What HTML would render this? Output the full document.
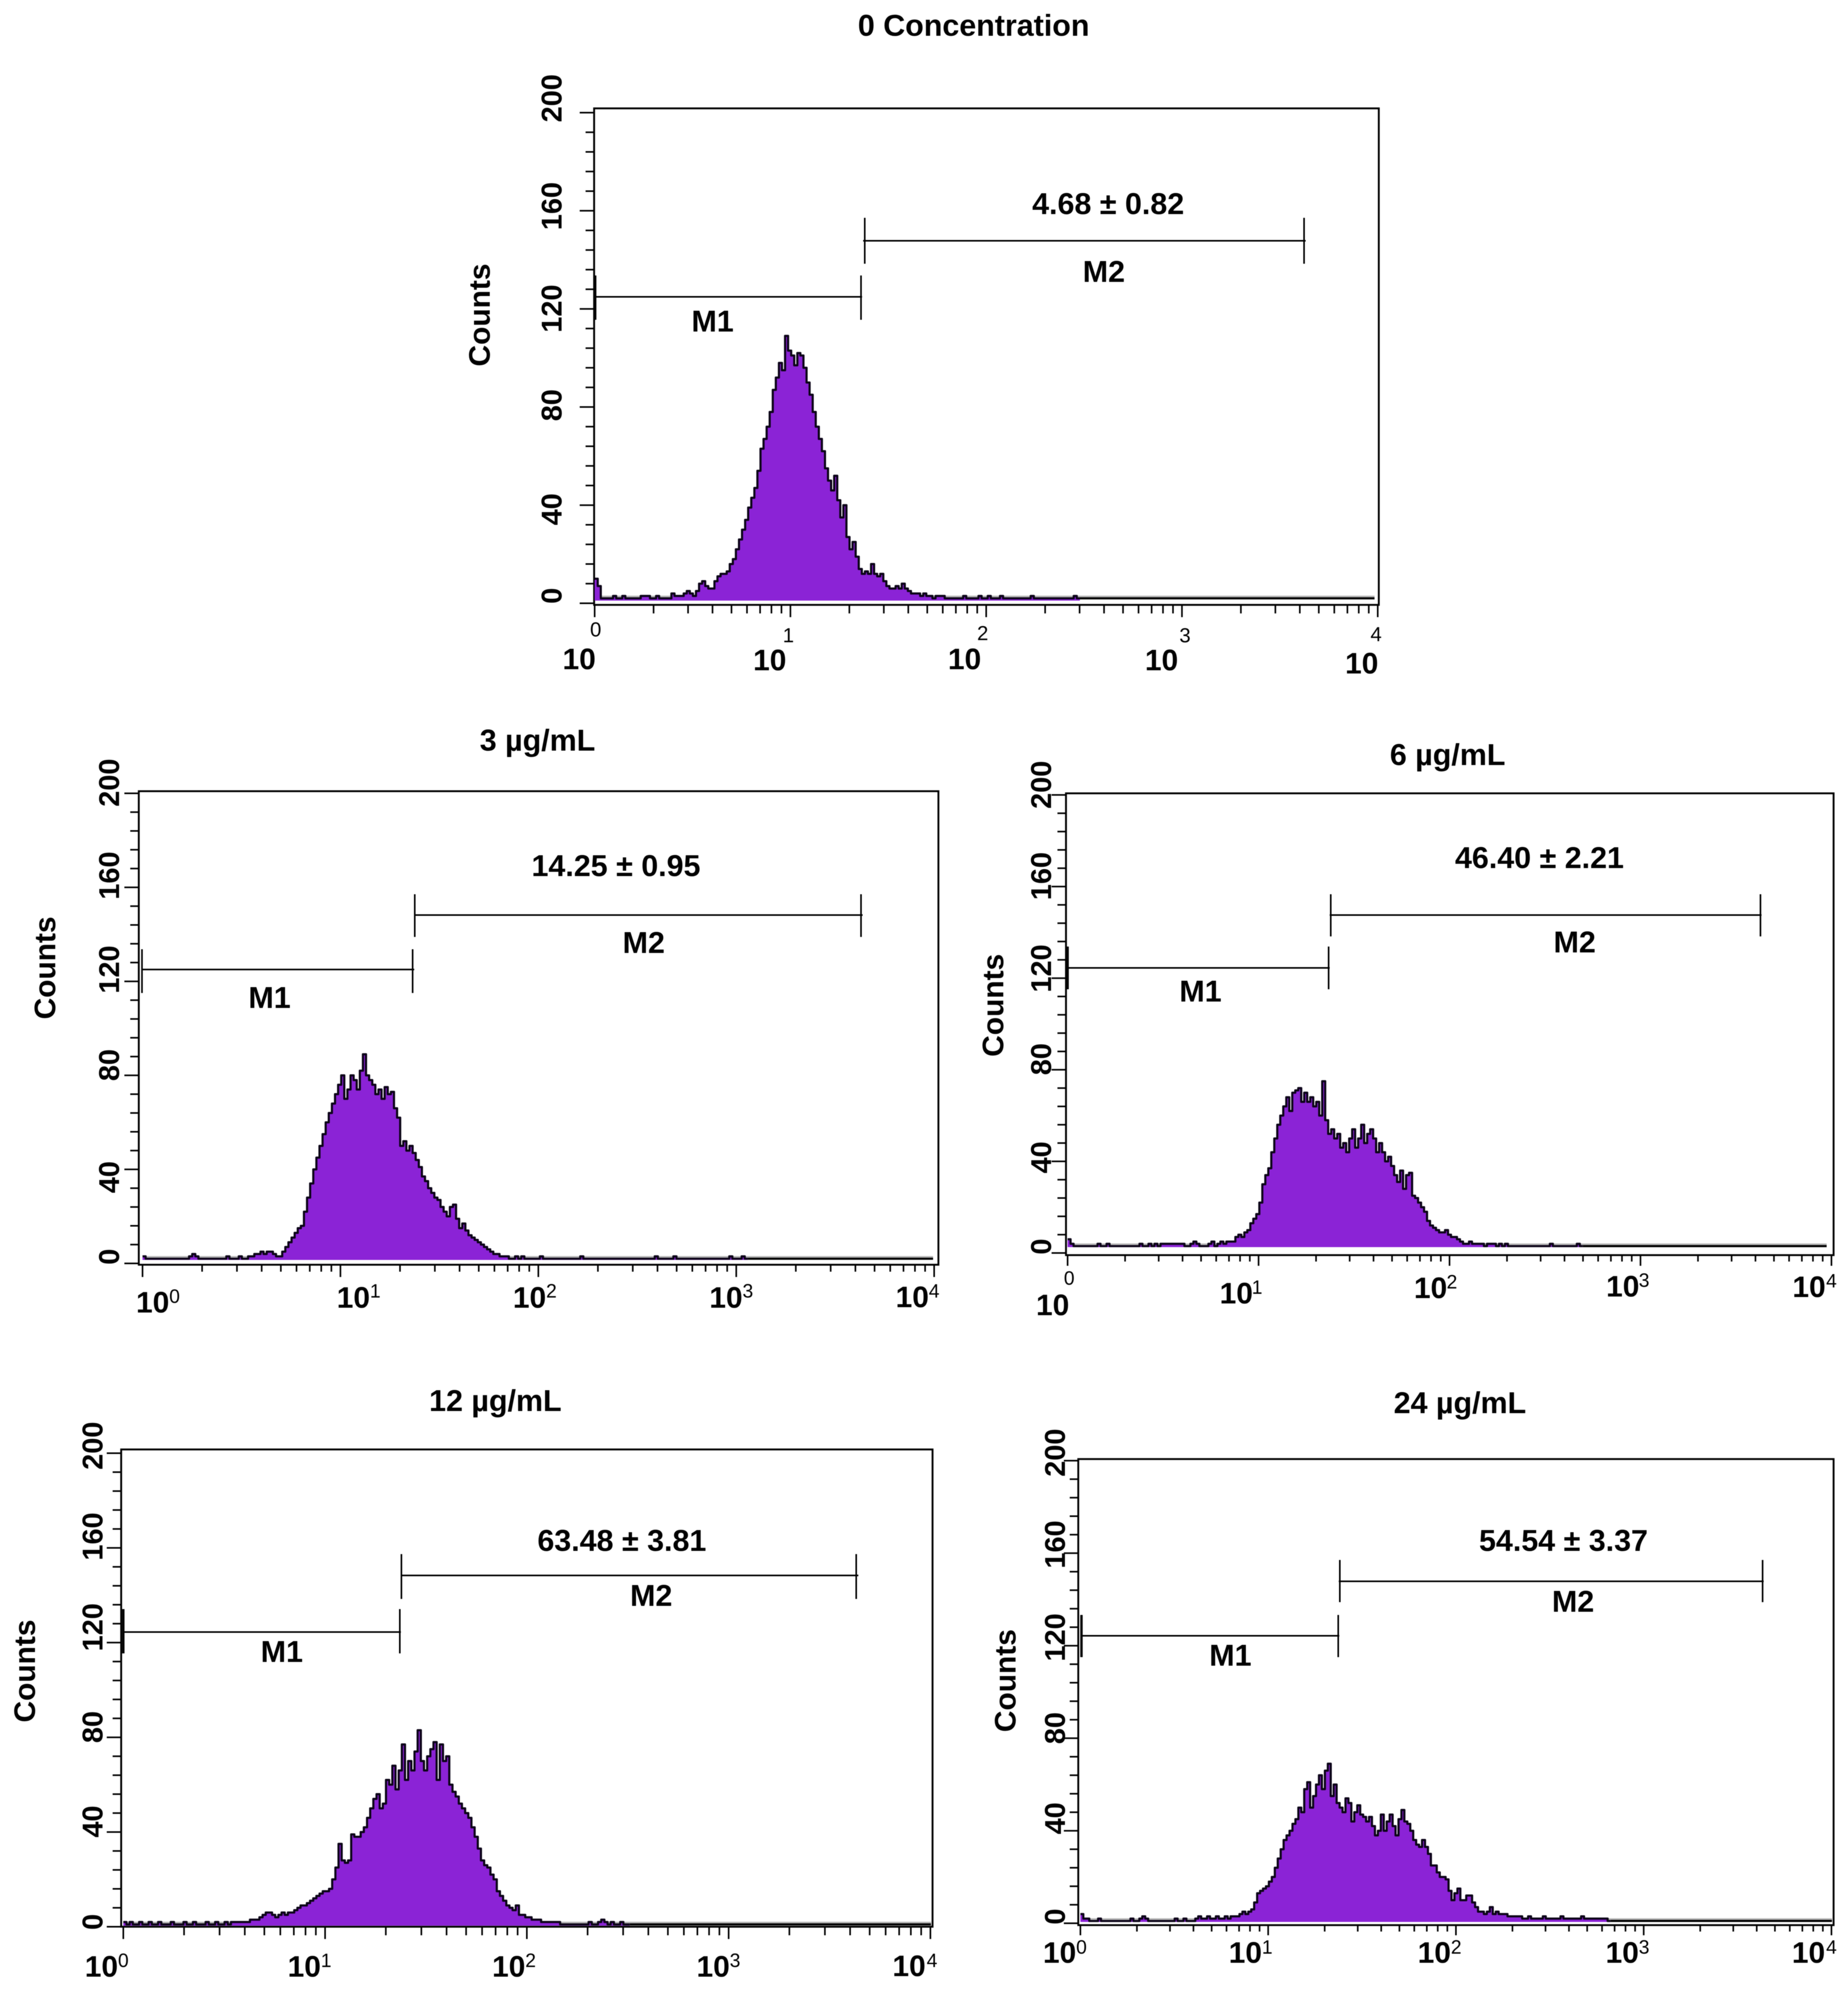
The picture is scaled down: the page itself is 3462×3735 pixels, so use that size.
<!DOCTYPE html>
<html>
<head>
<meta charset="utf-8">
<title>Flow cytometry histograms</title>
<style>
html,body{margin:0;padding:0;background:#fff;width:3462px;height:3735px;overflow:hidden}
svg{display:block;filter:blur(.6px)}
text{font-family:"Liberation Sans",sans-serif;font-weight:bold;fill:#000;text-anchor:middle;dominant-baseline:central}
.ttl,.val,.mk{font-size:57px}
.cnt{font-size:56px}
.frame{fill:none;stroke:#000;stroke-width:3.5}
.m{stroke:#000;stroke-width:3;fill:none}
.m2{stroke:#000;stroke-width:4.5;fill:none}
</style>
</head>
<body>
<svg id="chart" xmlns="http://www.w3.org/2000/svg" width="3462" height="3735" viewBox="0 0 3462 3735">
<rect width="3462" height="3735" fill="#fff"/>

<g id="p0">
<text class="ttl" x="1824" y="48">0 Concentration</text>
<rect class="frame" x="1113" y="203" width="1470" height="930"/>
<text class="cnt" x="898" y="590" transform="rotate(-90 898 590)">Counts</text>
<g><path class="m" d="M1114 556H1615M1613 516V599"/><path class="m2" d="M1115 516V599"/></g>
<g><path class="m" d="M1617 451H2446M1620 408V494M2443 408V494"/></g>
<text class="val" x="2076" y="382">4.68 ± 0.82</text>
<text class="mk" x="1335" y="602">M1</text>
<text class="mk" x="2068" y="509">M2</text>
</g>

<g id="p1">
<text class="ttl" x="1007" y="1387">3 µg/mL</text>
<rect class="frame" x="260" y="1482" width="1498" height="887"/>
<text class="cnt" x="84" y="1813" transform="rotate(-90 84 1813)">Counts</text>
<g><path class="m" d="M266 1816H776M773 1778V1860M266 1778V1860"/></g>
<g><path class="m" d="M777 1714H1616M777 1675V1755M1613 1675V1755"/></g>
<text class="val" x="1154" y="1622">14.25 ± 0.95</text>
<text class="mk" x="505" y="1869">M1</text>
<text class="mk" x="1206" y="1766">M2</text>
</g>

<g id="p2">
<text class="ttl" x="2712" y="1414">6 µg/mL</text>
<rect class="frame" x="1997" y="1486" width="1438" height="865"/>
<text class="cnt" x="1860" y="1883" transform="rotate(-90 1860 1883)">Counts</text>
<g><path class="m" d="M2000 1813H2491M2489 1773V1853"/><path class="m2" d="M2000 1773V1853"/></g>
<g><path class="m" d="M2491 1714H3300M2493 1675V1754M3298 1675V1754"/></g>
<text class="val" x="2884" y="1607">46.40 ± 2.21</text>
<text class="mk" x="2249" y="1857">M1</text>
<text class="mk" x="2950" y="1765">M2</text>
</g>

<g id="p3">
<text class="ttl" x="928" y="2624">12 µg/mL</text>
<rect class="frame" x="227" y="2715" width="1520" height="894"/>
<text class="cnt" x="46" y="3130" transform="rotate(-90 46 3130)">Counts</text>
<g><path class="m" d="M231 3057H751M749 3014V3097"/><path class="m2" d="M231 3014V3097"/></g>
<g><path class="m" d="M751 2951H1608M752 2911V2995M1604 2911V2995"/></g>
<text class="val" x="1165" y="2886">63.48 ± 3.81</text>
<text class="mk" x="528" y="3094">M1</text>
<text class="mk" x="1220" y="2989">M2</text>
</g>

<g id="p4">
<text class="ttl" x="2735" y="2628">24 µg/mL</text>
<rect class="frame" x="2020" y="2733" width="1415" height="873"/>
<text class="cnt" x="1883" y="3148" transform="rotate(-90 1883 3148)">Counts</text>
<g><path class="m" d="M2026 3064H2509M2507 3025V3104"/><path class="m2" d="M2026 3025V3104"/></g>
<g><path class="m" d="M2508 2962H3304M2510 2922V3001M3302 2922V3001"/></g>
<text class="val" x="2929" y="2886">54.54 ± 3.37</text>
<text class="mk" x="2305" y="3101">M1</text>
<text class="mk" x="2947" y="3000">M2</text>
</g>
</svg>

<script>
// Chart values: counts per log channel
const yTickValues = [0, 40, 80, 120, 160, 200];
const yMinorStep = [8];
const xTickBase = ['10', '10', '10', '10', '10'];
const xTickExp = ['0', '1', '2', '3', '4'];
const xMinorMultipliers = [2, 3, 4, 5, 6, 7, 8, 9];

const counts0 = [
10,7,2,2,2,2,3,2,2,3,
2,2,2,2,2,3,3,3,2,2,
3,2,2,2,2,4,3,3,3,4,
5,4,3,5,8,9,7,6,6,9,
11,12,12,13,16,18,22,26,30,34,
39,43,47,54,63,67,72,78,87,92,
98,95,109,103,101,97,102,101,96,90,
85,78,72,67,62,55,50,46,52,42,
35,40,27,22,25,19,14,12,13,12,
16,12,11,12,9,7,6,6,7,6,
8,6,5,4,4,4,3,4,3,3,
2,3,3,3,2,2,2,2,2,2,
3,2,2,2,2,3,2,2,3,2,
2,2,3,2,2,2,2,2,2,2,
2,2,3,2,2,2,2,2,2,2,
2,2,2,2,2,2,3,2];
const counts3 = [
3,2,2,2,2,2,2,2,2,2,
2,2,2,2,2,3,4,3,2,2,
2,2,2,2,2,2,2,3,2,2,
2,3,2,2,3,3,4,4,5,4,
5,5,4,3,3,5,7,9,11,13,
15,16,22,28,34,40,45,50,55,60,
64,68,72,76,80,70,74,80,78,74,
82,89,80,78,76,72,74,70,75,72,
73,66,62,50,52,48,50,47,44,41,
37,35,32,30,28,27,24,22,20,24,
25,19,15,17,14,12,11,10,9,8,
7,6,5,4,4,3,3,3,2,2,
3,2,3,2,2,2,2,2,3,2,
2,2,2,2,2,2,2,2,2,2,
2,3,2,2,2,2,2,2,2,2,
2,2,2,2,2,2,2,2,2,2,
2,2,2,2,2,3,2,2,2,2,
2,3,2,2,2,2,2,2,2,2,
2,2,2,2,2,2,2,2,2,3,
2,2,2,3,2];
const counts6 = [
6,4,3,3,3,3,3,3,3,3,
4,3,3,4,3,3,3,3,3,3,
3,3,3,3,4,3,3,4,3,4,
3,4,4,4,4,4,4,4,4,3,
3,4,5,4,3,3,3,4,5,3,
4,5,4,5,5,5,7,8,7,9,
10,13,15,17,22,30,34,37,44,50,
56,60,64,68,62,70,71,72,66,70,
66,68,64,66,60,75,58,52,54,50,
52,46,48,44,50,54,46,50,56,48,
52,54,50,44,48,44,40,42,38,34,
31,36,28,34,35,25,24,22,20,18,
14,12,11,10,9,9,10,8,7,7,
6,5,4,4,5,4,4,4,4,3,
4,4,4,3,4,3,4,3,3,3,
3,3,3,3,3,3,3,3,3,3,
3,4,3,3,3,3,3,3,3,3,
4,3];
const counts12 = [
2,1,2,1,1,2,1,1,2,1,
1,2,1,1,1,2,1,1,1,2,
1,1,2,1,1,1,2,1,1,2,
1,1,2,1,2,2,2,2,2,2,
3,3,3,4,5,6,6,5,4,5,
6,5,6,6,7,8,9,9,10,11,
12,13,14,15,15,16,20,25,35,28,
27,28,39,38,38,40,42,46,50,54,
56,50,52,62,60,68,58,66,77,62,
70,66,74,83,70,66,72,75,78,62,
77,70,72,60,57,55,52,50,48,46,
42,38,33,28,26,25,22,20,15,13,
11,9,8,7,9,5,5,4,4,3,
3,3,2,2,2,2,2,2,1,1,
1,1,1,1,1,1,1,2,1,1,
2,3,2,1,2,1,1,2,1,1];
const counts24 = [
4,2,2,1,1,1,2,1,1,1,
1,1,1,1,1,1,1,2,1,1,
2,3,2,1,1,1,1,1,1,1,
1,1,2,1,1,2,1,1,1,2,
3,2,2,3,2,2,3,2,2,3,
2,3,3,3,4,5,4,5,6,9,
13,14,15,16,18,20,24,28,32,36,
38,40,43,45,50,48,58,61,50,55,
60,64,58,66,69,55,60,52,50,48,
54,52,44,48,51,47,46,44,46,42,
38,40,47,40,44,47,42,38,45,49,
44,43,40,36,34,33,36,33,30,25,
25,22,20,20,19,14,10,13,15,10,
10,12,12,9,7,5,5,4,5,7,
4,5,4,4,4,3,3,3,3,3,
2,2,3,2,2,2,2,3,2,2,
2,2,2,3,2,2,2,2,2,2,
3,2,2,2,2,2,2,2,2,1];

const histogramSeries = [counts0, counts3, counts6, counts12, counts24];
const channelCount = 256;

// Panel layout (geometry only)
const panelLayouts = [
 {id:'p0',x0:1114,x1:2581,y0:1130,y200:211,left:1113,bottom:1133,base:1125,tailEnd:2575,yLabelX:1034,
  yLabelY:[1116,954,759,578,386,184],
  xBase:[[1085,1234],[1442,1236],[1807,1234],[2176,1236],[2551,1242]],
  xSup:[[1116,1180],[1477,1191],[1841,1187],[2220,1191],[2578,1189]],supSize:38,majorLen:23,minorLen:16},
 {id:'p1',x0:267,x1:1750,y0:2366.5,y200:1486,left:260,bottom:2369,base:2360,tailEnd:1748,yLabelX:205,
  yLabelY:[2354,2205,1995,1816,1640,1466],
  xBase:[[286,2439],[662,2430],[992,2430],[1360,2430],[1709,2429]],
  xSup:[[327,2428],[703,2418],[1033,2418],[1401,2418],[1750,2418]],supSize:36,majorLen:23,minorLen:13},
 {id:'p2',x0:2000,x1:3431,y0:2347,y200:1489,left:1997,bottom:2351,base:2336,tailEnd:3422,yLabelX:1951,
  yLabelY:[2335,2168,1984,1814,1641,1470],
  xBase:[[1972,2444],[2316,2422],[2680,2412],[3040,2409],[3389,2410]],
  xSup:[[2003,2394],[2355,2411],[2720,2401],[3080,2398],[3431,2399]],supSize:36,majorLen:20,minorLen:12},
 {id:'p3',x0:231,x1:1743,y0:3609,y200:2722,left:227,bottom:3609,base:3607,tailEnd:1744,yLabelX:174,
  yLabelY:[3600,3412,3235,3048,2878,2708],
  xBase:[[190,3683],[570,3683],[953,3683],[1336,3683],[1703,3682]],
  xSup:[[231,3672],[611,3672],[994,3672],[1377,3672],[1746,3672]],supSize:36,majorLen:23,minorLen:16},
 {id:'p4',x0:2024,x1:3431,y0:3602.5,y200:2736,left:2020,bottom:3606,base:3600,tailEnd:3432,yLabelX:1977,
  yLabelY:[3590,3406,3237,3067,2893,2721],
  xBase:[[1985,3657],[2333,3657],[2687,3657],[3039,3657],[3388,3657]],
  xSup:[[2026,3647],[2374,3647],[2728,3647],[3080,3647],[3431,3647]],supSize:36,majorLen:19,minorLen:12}
];

const SVGNS = 'http://www.w3.org/2000/svg';
function make(tag, parent, attrs) {
  const el = document.createElementNS(SVGNS, tag);
  for (const k in attrs) el.setAttribute(k, attrs[k]);
  parent.appendChild(el);
  return el;
}

panelLayouts.forEach(function (L, idx) {
  const data = histogramSeries[idx];
  const root = document.getElementById(L.id);
  const decades = xTickExp.length - 1;
  const xDecade = function (d) { return L.x0 + (L.x1 - L.x0) * d / decades; };
  const xChannel = function (c) { return xDecade(c / (channelCount - 1) * decades); };
  const yScale = function (v) { return L.y0 - (L.y0 - L.y200) * v / 200; };

  // histogram
  const histGroup = make('g', root, {});
  
  
  const flatY = yScale(data[data.length - 1]);
  const halo = make('line', histGroup, {x1: xChannel(0), x2: L.tailEnd, y1: flatY - 3.5, y2: flatY - 3.5, stroke: '#b5b5b5', 'stroke-width': 3});
  
  
  let d = 'M' + xChannel(0).toFixed(1) + ' ' + yScale(data[0]).toFixed(1);
  data.forEach(function (v, i) {
    d += 'L' + xChannel(i).toFixed(1) + ' ' + yScale(v).toFixed(1);
    d += 'L' + xChannel(i + 1).toFixed(1) + ' ' + yScale(v).toFixed(1);
  });
  const lastX = xChannel(data.length).toFixed(1);
  const startX = xChannel(0).toFixed(1);
  const fill = make('path', histGroup, {d: d + 'L' + lastX + ' ' + L.base + 'L' + startX + ' ' + L.base + 'Z', fill: '#8b23d6', stroke: 'none'});
  
  
  const outline = make('path', histGroup, {d: d, fill: 'none', stroke: '#0c0418', 'stroke-width': 4, 'stroke-linejoin': 'round'});
  
  
  const tail = make('line', histGroup, {x1: lastX, x2: L.tailEnd, y1: flatY, y2: flatY, stroke: '#000', 'stroke-width': 4});
  
  

  // y ticks
  const yMax = yTickValues[yTickValues.length - 1];
  for (let v = 0; v <= yMax; v += yMinorStep[0]) {
    const isMajor = yTickValues.indexOf(v) >= 0;
    const t = make('line', root, {x1: L.left - (isMajor ? 27 : 16), x2: L.left, y1: yScale(v), y2: yScale(v), stroke: '#000', 'stroke-width': 3});
    
    
  }
  yTickValues.forEach(function (v, i) {
    const ty = L.yLabelY[i];
    const t = make('text', root, {x: L.yLabelX, y: ty, transform: 'rotate(-90 ' + L.yLabelX + ' ' + ty + ')', 'font-size': 54});
    t.textContent = String(v);
    
    
  });

  // x ticks
  for (let i = 0; i <= decades; i++) {
    const maj = make('line', root, {x1: xDecade(i), x2: xDecade(i), y1: L.bottom, y2: L.bottom + L.majorLen, stroke: '#000', 'stroke-width': 3});
    
    
    if (i < decades) {
      xMinorMultipliers.forEach(function (m) {
        const mx = xDecade(i + Math.log10(m));
        const mn = make('line', root, {x1: mx, x2: mx, y1: L.bottom, y2: L.bottom + L.minorLen, stroke: '#000', 'stroke-width': 3});
        
        
      });
    }
    const b = make('text', root, {x: L.xBase[i][0], y: L.xBase[i][1], 'font-size': 56});
    b.textContent = xTickBase[i];
    
    
    const s = make('text', root, {x: L.xSup[i][0], y: L.xSup[i][1], 'font-size': L.supSize});
    s.style.fontWeight = 'normal';
    s.textContent = xTickExp[i];
    
    
  }
});
</script>
</body>
</html>
